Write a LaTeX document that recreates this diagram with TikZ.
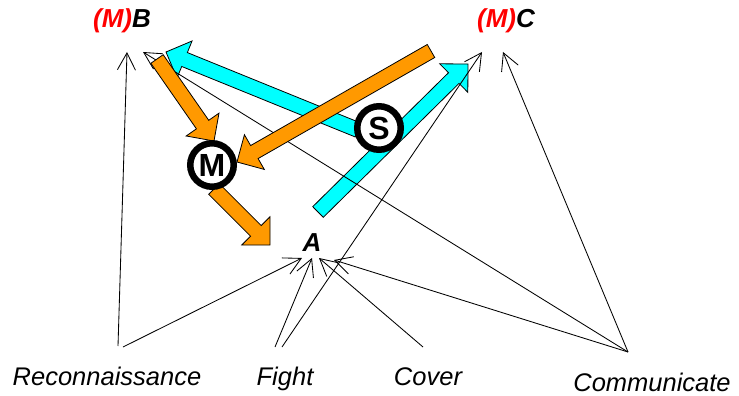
\documentclass[tikz,border=0pt]{standalone}
\usepackage{fontspec}
\setmainfont{Liberation Sans}
\usetikzlibrary{arrows.meta,calc}

\definecolor{blockorange}{RGB}{255,153,0}
\definecolor{blockcyan}{RGB}{0,255,255}
\definecolor{tagred}{RGB}{255,0,0}

% Outlined block arrow from tail #1 to tip #2, filled with colour #3
\newcommand{\blockarrow}[3]{%
  \coordinate (ba-base) at ($(#2)!20pt!(#1)$);
  \filldraw[blockline, fill=#3]
    ($(#1)!7.5pt!90:(#2)$) -- ($(ba-base)!7.5pt!90:(#2)$)
    -- ($(ba-base)!20pt!90:(#2)$) -- (#2)
    -- ($(ba-base)!20pt!-90:(#2)$) -- ($(ba-base)!7.5pt!-90:(#2)$)
    -- ($(#1)!7.5pt!-90:(#2)$) -- cycle;
}

\begin{document}
\begin{tikzpicture}[x=1pt, y=-1pt,
  blockline/.style={draw=black, line width=0.8pt, line join=miter},
  conn/.style={draw=black, line width=0.85pt,
    -{Straight Barb[length=17pt, width=18pt]}},
  tag/.style={inner sep=0pt, font=\fontsize{26}{30}\selectfont\bfseries\itshape},
  task/.style={inner sep=0pt, font=\fontsize{25.5}{30}\selectfont\itshape},
  ring/.style={circle, draw=black, line width=6.5pt, fill=white,
    minimum size=43.5pt, inner sep=0pt,
    font=\fontsize{32}{32}\selectfont\bfseries}]

\useasboundingbox (0,0) rectangle (739,396);

% labels
\node[tag, anchor=base] (B) at (122,28) {\textcolor{tagred}{(M)}B};
\node[tag, anchor=base] (C) at (506,28) {\textcolor{tagred}{(M)}C};
\node[tag, anchor=base] (A) at (312,251) {A};
\node[task, anchor=base] (rec) at (107,385) {Reconnaissance};
\node[task, anchor=base] (fight) at (285,385) {Fight};
\node[task, anchor=base] (cover) at (428,385) {Cover};
\node[task, anchor=base] (comm) at (652,391) {Communicate};

% connector ends
\coordinate (B1) at (127,52);
\coordinate (B2) at (143,52);
\coordinate (C1) at (482,52);
\coordinate (C2) at (503,52);
\coordinate (A1) at (302,258);
\coordinate (A2) at (312,258);
\coordinate (A3) at (319,258);
\coordinate (A4) at (334,260);
\coordinate (rec1) at (118,346);
\coordinate (rec2) at (123,347);
\coordinate (fight1) at (275,347);
\coordinate (fight2) at (282,347);
\coordinate (cover1) at (423,347);
\coordinate (comm1) at (628,352);

% block arrow ends
\coordinate (sTail1) at (358,130);
\coordinate (sTip1) at (166,52);
\coordinate (sTail2) at (318,212);
\coordinate (sTip2) at (468,64);
\coordinate (mTail1) at (157,59);
\coordinate (mTip1) at (214,141);
\coordinate (mTail2) at (431,51);
\coordinate (mTip2) at (237,162);
\coordinate (mTail3) at (214,189);
\coordinate (mTip3) at (270,245);

% cyan arrows
\blockarrow{sTail1}{sTip1}{blockcyan}
\blockarrow{sTail2}{sTip2}{blockcyan}

% task connectors
\draw[conn] (rec1) -- (B1);
\draw[conn] (rec2) -- (A1);
\draw[conn] (fight1) -- (A2);
\draw[conn] (fight2) -- (C1);
\draw[conn] (cover1) -- (A3);
\draw[conn] (comm1) -- (A4);
\draw[conn] (comm1) -- (B2);
\draw[conn] (comm1) -- (C2);

% orange arrows
\blockarrow{mTail1}{mTip1}{blockorange}
\blockarrow{mTail2}{mTip2}{blockorange}
\blockarrow{mTail3}{mTip3}{blockorange}

% rings
\node[ring] (M) at (212,165) {M};
\node[ring] (S) at (379,128) {S};

\end{tikzpicture}
\end{document}
